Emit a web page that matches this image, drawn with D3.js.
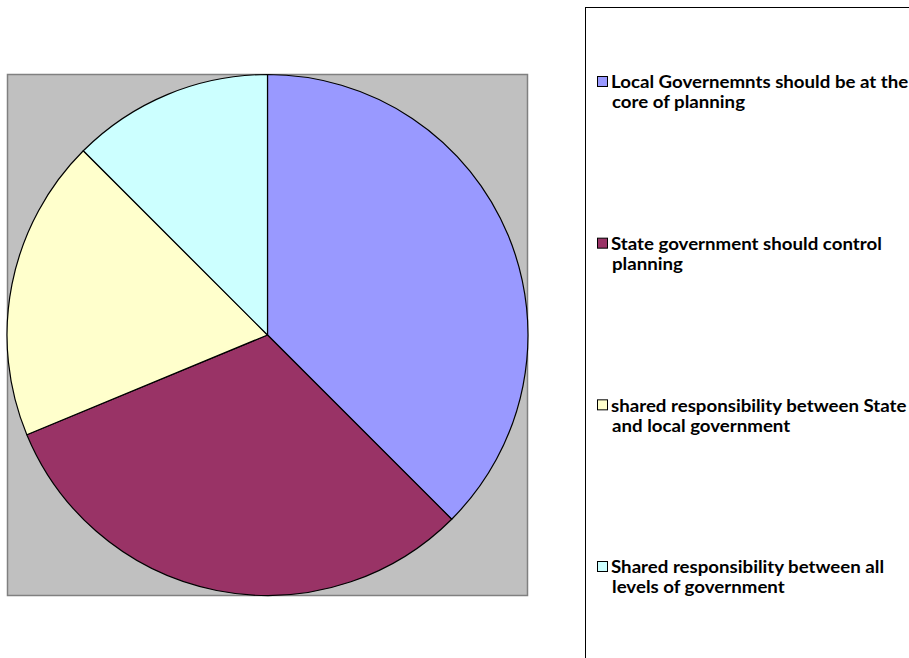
<!DOCTYPE html>
<html><head><meta charset="utf-8">
<script src="https://cdn.jsdelivr.net/npm/d3@7"></script>
<style>html,body{margin:0;padding:0;background:#fff;overflow:hidden}svg{display:block}</style>
</head><body>
<script>
const categories = [
  ["Local Governemnts should be at the", "core of planning"],
  ["State government should control", "planning"],
  ["shared responsibility between State", "and local government"],
  ["Shared responsibility between all", "levels of government"]
];
const values = [6, 5, 3, 2];
const colors = ["#9999FF", "#993366", "#FFFFCC", "#CCFFFF"];

const W = 909, H = 658;
const svg = d3.select("body").append("svg").attr("width", W).attr("height", H);

// plot area
const plot = {x: 7.5, y: 74.5, w: 520, h: 521};
svg.append("rect").attr("x", plot.x).attr("y", plot.y).attr("width", plot.w).attr("height", plot.h)
  .attr("fill", "#C0C0C0").attr("stroke", "#808080").attr("stroke-width", 1.5);

const cx = 267.5, cy = 335, r = 260.5;
const pie = d3.pie().sort(null).value(d => d)(values);
const arc = d3.arc().innerRadius(0).outerRadius(r);
svg.append("g").attr("transform", `translate(${cx},${cy})`)
  .selectAll("path").data(pie).join("path")
  .attr("d", arc).attr("fill", (d, i) => colors[i])
  .attr("stroke", "#000").attr("stroke-width", 1.2).attr("stroke-linejoin", "round");

// legend
svg.append("rect").attr("x", 585.5).attr("y", 7.5).attr("width", 400).attr("height", 700)
  .attr("fill", "#fff").attr("stroke", "#000").attr("stroke-width", 1);

const ly = d3.scalePoint().domain(d3.range(categories.length)).range([81, 566]);
const lg = svg.append("g").selectAll("g").data(categories).join("g")
  .attr("transform", (d, i) => `translate(597,${ly(i)})`);
lg.append("rect").attr("x", 0.5).attr("y", -4.5).attr("width", 10).attr("height", 10)
  .attr("fill", (d, i) => colors[i]).attr("stroke", "#000").attr("stroke-width", 1);
const texts = [];
lg.each(function(d) {
  const g = d3.select(this);
  d.forEach((line, k) => {
    texts.push(g.append("text").attr("x", 0).attr("y", 0).attr("dy", "0.38em")
      .attr("transform", `translate(${k === 0 ? 14 : 15},${1 + k * 20})`)
      .attr("font-family", "Lato, 'Open Sans', sans-serif").attr("font-weight", "bold")
      .attr("font-size", 16.5).attr("fill", "#000").text(line));
  });
});
// fit horizontal width to the reference line width (Calibri-like metrics)
const refW = texts[2].node().getComputedTextLength();
const sx = 271 / refW;
texts.forEach(t => t.attr("transform", t.attr("transform") + ` scale(${sx},1)`));
</script>
</body></html>
